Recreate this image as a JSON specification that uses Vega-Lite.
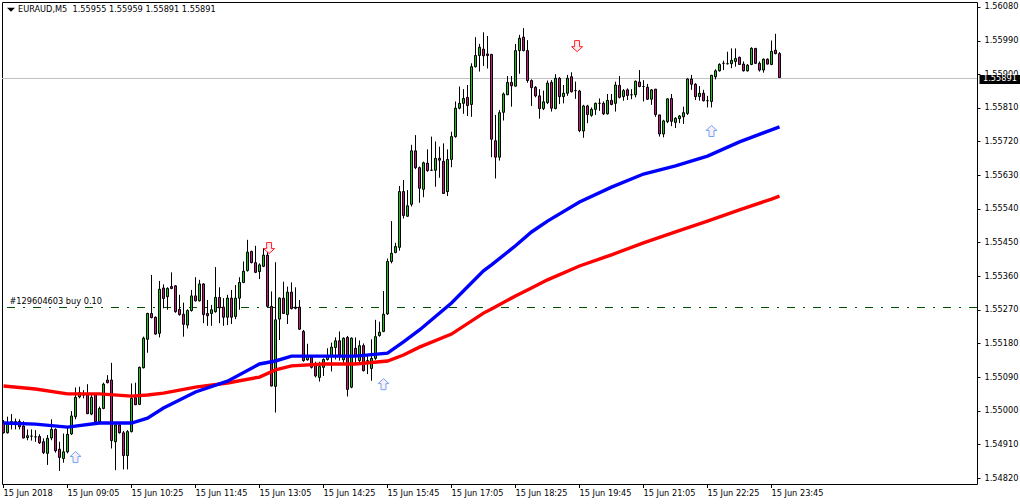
{"$schema":"https://vega.github.io/schema/vega-lite/v6.json","width":975,"height":482,"autosize":"none","padding":{"left":2,"top":2,"right":43,"bottom":20},"background":"white","config":{"view":{"stroke":"black","strokeWidth":1},"axis":{"title":null,"grid":false,"domain":false,"tickColor":"black","tickSize":3,"labelColor":"black","labelFont":"DejaVu Sans","labelFontSize":8.2,"labelOverlap":false,"labelBound":false},"text":{"font":"DejaVu Sans","fontSize":8.2,"color":"black"}},"datasets":{"candles":[
{"t":"2018-06-15T07:45Z","o":1.54968,"h":1.54975,"l":1.54939,"c":1.54941},
{"t":"2018-06-15T07:50Z","o":1.54941,"h":1.54984,"l":1.54939,"c":1.54966},
{"t":"2018-06-15T07:55Z","o":1.54963,"h":1.54991,"l":1.5495,"c":1.54971},
{"t":"2018-06-15T08:00Z","o":1.54964,"h":1.54979,"l":1.5495,"c":1.54971},
{"t":"2018-06-15T08:05Z","o":1.54971,"h":1.54977,"l":1.5495,"c":1.54957},
{"t":"2018-06-15T08:10Z","o":1.54959,"h":1.54972,"l":1.54926,"c":1.54927},
{"t":"2018-06-15T08:15Z","o":1.54928,"h":1.5495,"l":1.54921,"c":1.54933},
{"t":"2018-06-15T08:20Z","o":1.54932,"h":1.5495,"l":1.5492,"c":1.54932},
{"t":"2018-06-15T08:25Z","o":1.5493,"h":1.54948,"l":1.54917,"c":1.5493},
{"t":"2018-06-15T08:30Z","o":1.54931,"h":1.54937,"l":1.54911,"c":1.54914},
{"t":"2018-06-15T08:35Z","o":1.54917,"h":1.54926,"l":1.54884,"c":1.54888},
{"t":"2018-06-15T08:40Z","o":1.54886,"h":1.54935,"l":1.54855,"c":1.54926},
{"t":"2018-06-15T08:45Z","o":1.54927,"h":1.54977,"l":1.54921,"c":1.5495},
{"t":"2018-06-15T08:50Z","o":1.5495,"h":1.54953,"l":1.54888,"c":1.54893},
{"t":"2018-06-15T08:55Z","o":1.54897,"h":1.54917,"l":1.54839,"c":1.54875},
{"t":"2018-06-15T09:00Z","o":1.54872,"h":1.54939,"l":1.54861,"c":1.5489},
{"t":"2018-06-15T09:05Z","o":1.5489,"h":1.54956,"l":1.54886,"c":1.54937},
{"t":"2018-06-15T09:10Z","o":1.54938,"h":1.54999,"l":1.54935,"c":1.54986},
{"t":"2018-06-15T09:15Z","o":1.54984,"h":1.55062,"l":1.54977,"c":1.55036},
{"t":"2018-06-15T09:20Z","o":1.55037,"h":1.55064,"l":1.55033,"c":1.55048},
{"t":"2018-06-15T09:25Z","o":1.55042,"h":1.55055,"l":1.55033,"c":1.55042},
{"t":"2018-06-15T09:30Z","o":1.55042,"h":1.55071,"l":1.54991,"c":1.54992},
{"t":"2018-06-15T09:35Z","o":1.54991,"h":1.55045,"l":1.54988,"c":1.55036},
{"t":"2018-06-15T09:40Z","o":1.55042,"h":1.55046,"l":1.54966,"c":1.54971},
{"t":"2018-06-15T09:45Z","o":1.54971,"h":1.55011,"l":1.54966,"c":1.55006},
{"t":"2018-06-15T09:50Z","o":1.55006,"h":1.55075,"l":1.55004,"c":1.55071},
{"t":"2018-06-15T09:55Z","o":1.55082,"h":1.55095,"l":1.55073,"c":1.55075},
{"t":"2018-06-15T10:00Z","o":1.55082,"h":1.55128,"l":1.54899,"c":1.5492},
{"t":"2018-06-15T10:05Z","o":1.54917,"h":1.54966,"l":1.54841,"c":1.54962},
{"t":"2018-06-15T10:10Z","o":1.54962,"h":1.54968,"l":1.54939,"c":1.54941},
{"t":"2018-06-15T10:15Z","o":1.54941,"h":1.54946,"l":1.54843,"c":1.5488},
{"t":"2018-06-15T10:20Z","o":1.5488,"h":1.54948,"l":1.54843,"c":1.54944},
{"t":"2018-06-15T10:25Z","o":1.54944,"h":1.55073,"l":1.54942,"c":1.55033},
{"t":"2018-06-15T10:30Z","o":1.55035,"h":1.55075,"l":1.55015,"c":1.55016},
{"t":"2018-06-15T10:35Z","o":1.55017,"h":1.55118,"l":1.55015,"c":1.55116},
{"t":"2018-06-15T10:40Z","o":1.55115,"h":1.55198,"l":1.55113,"c":1.55194},
{"t":"2018-06-15T10:45Z","o":1.55191,"h":1.55262,"l":1.55155,"c":1.5526},
{"t":"2018-06-15T10:50Z","o":1.5526,"h":1.55363,"l":1.55247,"c":1.55249},
{"t":"2018-06-15T10:55Z","o":1.5525,"h":1.55252,"l":1.55203,"c":1.55205},
{"t":"2018-06-15T11:00Z","o":1.55207,"h":1.55347,"l":1.55196,"c":1.55325},
{"t":"2018-06-15T11:05Z","o":1.55328,"h":1.55338,"l":1.55274,"c":1.553},
{"t":"2018-06-15T11:10Z","o":1.55305,"h":1.5533,"l":1.5527,"c":1.55327},
{"t":"2018-06-15T11:15Z","o":1.55332,"h":1.5537,"l":1.55325,"c":1.55327},
{"t":"2018-06-15T11:20Z","o":1.55334,"h":1.55336,"l":1.55262,"c":1.55265},
{"t":"2018-06-15T11:25Z","o":1.55271,"h":1.5531,"l":1.55254,"c":1.55257},
{"t":"2018-06-15T11:30Z","o":1.55258,"h":1.55289,"l":1.55198,"c":1.55231},
{"t":"2018-06-15T11:35Z","o":1.55229,"h":1.55271,"l":1.5522,"c":1.55268},
{"t":"2018-06-15T11:40Z","o":1.55268,"h":1.55323,"l":1.55265,"c":1.55307},
{"t":"2018-06-15T11:45Z","o":1.55307,"h":1.55357,"l":1.55292,"c":1.55294},
{"t":"2018-06-15T11:50Z","o":1.55294,"h":1.5535,"l":1.55292,"c":1.55339},
{"t":"2018-06-15T11:55Z","o":1.55339,"h":1.55341,"l":1.55234,"c":1.55257},
{"t":"2018-06-15T12:00Z","o":1.5526,"h":1.55296,"l":1.55227,"c":1.55254},
{"t":"2018-06-15T12:05Z","o":1.5526,"h":1.55283,"l":1.55227,"c":1.5527},
{"t":"2018-06-15T12:10Z","o":1.55265,"h":1.55384,"l":1.55262,"c":1.55303},
{"t":"2018-06-15T12:15Z","o":1.55303,"h":1.5533,"l":1.55234,"c":1.55275},
{"t":"2018-06-15T12:20Z","o":1.55277,"h":1.55301,"l":1.55227,"c":1.5525},
{"t":"2018-06-15T12:25Z","o":1.5525,"h":1.5531,"l":1.55229,"c":1.55301},
{"t":"2018-06-15T12:30Z","o":1.55301,"h":1.55323,"l":1.55232,"c":1.5525},
{"t":"2018-06-15T12:35Z","o":1.55252,"h":1.55336,"l":1.55245,"c":1.55301},
{"t":"2018-06-15T12:40Z","o":1.55301,"h":1.55357,"l":1.5527,"c":1.55343},
{"t":"2018-06-15T12:45Z","o":1.55343,"h":1.55399,"l":1.55341,"c":1.55373},
{"t":"2018-06-15T12:50Z","o":1.55375,"h":1.55457,"l":1.55372,"c":1.55424},
{"t":"2018-06-15T12:55Z","o":1.55426,"h":1.55428,"l":1.55394,"c":1.55396},
{"t":"2018-06-15T13:00Z","o":1.55396,"h":1.55441,"l":1.55368,"c":1.5537},
{"t":"2018-06-15T13:05Z","o":1.55372,"h":1.55394,"l":1.55352,"c":1.5539},
{"t":"2018-06-15T13:10Z","o":1.55386,"h":1.55435,"l":1.55384,"c":1.55416},
{"t":"2018-06-15T13:15Z","o":1.55416,"h":1.55448,"l":1.55277,"c":1.55279},
{"t":"2018-06-15T13:20Z","o":1.55279,"h":1.55319,"l":1.55065,"c":1.55066},
{"t":"2018-06-15T13:25Z","o":1.55065,"h":1.55397,"l":1.54995,"c":1.55243},
{"t":"2018-06-15T13:30Z","o":1.55245,"h":1.55303,"l":1.55189,"c":1.55301},
{"t":"2018-06-15T13:35Z","o":1.55301,"h":1.55345,"l":1.55259,"c":1.5526},
{"t":"2018-06-15T13:40Z","o":1.55257,"h":1.55332,"l":1.55232,"c":1.55317},
{"t":"2018-06-15T13:45Z","o":1.55317,"h":1.55343,"l":1.55271,"c":1.55273},
{"t":"2018-06-15T13:50Z","o":1.55277,"h":1.5533,"l":1.55271,"c":1.55274},
{"t":"2018-06-15T13:55Z","o":1.55277,"h":1.55296,"l":1.55216,"c":1.55218},
{"t":"2018-06-15T14:00Z","o":1.55212,"h":1.55216,"l":1.55131,"c":1.55134},
{"t":"2018-06-15T14:05Z","o":1.55136,"h":1.55179,"l":1.55134,"c":1.55145},
{"t":"2018-06-15T14:10Z","o":1.55143,"h":1.55149,"l":1.55113,"c":1.55116},
{"t":"2018-06-15T14:15Z","o":1.55122,"h":1.55131,"l":1.55089,"c":1.55093},
{"t":"2018-06-15T14:20Z","o":1.55089,"h":1.55131,"l":1.55078,"c":1.55118},
{"t":"2018-06-15T14:25Z","o":1.55116,"h":1.5514,"l":1.55093,"c":1.55137},
{"t":"2018-06-15T14:30Z","o":1.55137,"h":1.55167,"l":1.55134,"c":1.55145},
{"t":"2018-06-15T14:35Z","o":1.55146,"h":1.55182,"l":1.55105,"c":1.5517},
{"t":"2018-06-15T14:40Z","o":1.55169,"h":1.55196,"l":1.55137,"c":1.55187},
{"t":"2018-06-15T14:45Z","o":1.55187,"h":1.55212,"l":1.55134,"c":1.55149},
{"t":"2018-06-15T14:50Z","o":1.55136,"h":1.55196,"l":1.55127,"c":1.55194},
{"t":"2018-06-15T14:55Z","o":1.55196,"h":1.552,"l":1.55038,"c":1.55057},
{"t":"2018-06-15T15:00Z","o":1.55063,"h":1.55196,"l":1.5506,"c":1.55194},
{"t":"2018-06-15T15:05Z","o":1.55167,"h":1.55196,"l":1.55127,"c":1.55146},
{"t":"2018-06-15T15:10Z","o":1.55134,"h":1.55188,"l":1.55127,"c":1.55174},
{"t":"2018-06-15T15:15Z","o":1.55174,"h":1.5518,"l":1.55105,"c":1.55107},
{"t":"2018-06-15T15:20Z","o":1.55134,"h":1.55149,"l":1.55098,"c":1.55134},
{"t":"2018-06-15T15:25Z","o":1.55113,"h":1.55191,"l":1.5508,"c":1.5514},
{"t":"2018-06-15T15:30Z","o":1.5514,"h":1.55243,"l":1.55136,"c":1.55198},
{"t":"2018-06-15T15:35Z","o":1.55201,"h":1.55238,"l":1.55198,"c":1.5521},
{"t":"2018-06-15T15:40Z","o":1.55212,"h":1.5532,"l":1.5521,"c":1.55258},
{"t":"2018-06-15T15:45Z","o":1.55259,"h":1.55407,"l":1.55256,"c":1.55399},
{"t":"2018-06-15T15:50Z","o":1.55399,"h":1.55507,"l":1.55394,"c":1.55421},
{"t":"2018-06-15T15:55Z","o":1.55423,"h":1.55449,"l":1.55421,"c":1.55439},
{"t":"2018-06-15T16:00Z","o":1.55437,"h":1.55601,"l":1.55428,"c":1.55586},
{"t":"2018-06-15T16:05Z","o":1.55586,"h":1.55617,"l":1.55514,"c":1.55522},
{"t":"2018-06-15T16:10Z","o":1.5552,"h":1.5559,"l":1.55519,"c":1.55548},
{"t":"2018-06-15T16:15Z","o":1.55552,"h":1.55711,"l":1.55546,"c":1.55695},
{"t":"2018-06-15T16:20Z","o":1.55695,"h":1.55737,"l":1.55646,"c":1.5565},
{"t":"2018-06-15T16:25Z","o":1.5565,"h":1.55653,"l":1.55556,"c":1.55595},
{"t":"2018-06-15T16:30Z","o":1.55592,"h":1.55666,"l":1.55571,"c":1.55663},
{"t":"2018-06-15T16:35Z","o":1.55662,"h":1.55699,"l":1.55639,"c":1.55642},
{"t":"2018-06-15T16:40Z","o":1.55643,"h":1.55733,"l":1.55642,"c":1.55643},
{"t":"2018-06-15T16:45Z","o":1.55643,"h":1.5572,"l":1.55599,"c":1.55675},
{"t":"2018-06-15T16:50Z","o":1.55675,"h":1.55706,"l":1.55623,"c":1.5567},
{"t":"2018-06-15T16:55Z","o":1.55667,"h":1.55715,"l":1.55581,"c":1.55581},
{"t":"2018-06-15T17:00Z","o":1.55586,"h":1.55699,"l":1.55574,"c":1.55672},
{"t":"2018-06-15T17:05Z","o":1.55672,"h":1.55746,"l":1.55651,"c":1.55733},
{"t":"2018-06-15T17:10Z","o":1.55733,"h":1.55827,"l":1.5573,"c":1.55809},
{"t":"2018-06-15T17:15Z","o":1.55809,"h":1.55867,"l":1.55806,"c":1.55822},
{"t":"2018-06-15T17:20Z","o":1.55822,"h":1.5586,"l":1.55794,"c":1.55835},
{"t":"2018-06-15T17:25Z","o":1.55838,"h":1.55871,"l":1.55788,"c":1.55816},
{"t":"2018-06-15T17:30Z","o":1.55819,"h":1.55929,"l":1.55786,"c":1.5592},
{"t":"2018-06-15T17:35Z","o":1.5592,"h":1.55999,"l":1.55918,"c":1.5595},
{"t":"2018-06-15T17:40Z","o":1.5595,"h":1.55981,"l":1.55907,"c":1.55972},
{"t":"2018-06-15T17:45Z","o":1.55967,"h":1.56012,"l":1.55922,"c":1.55949},
{"t":"2018-06-15T17:50Z","o":1.55954,"h":1.56002,"l":1.55915,"c":1.5595},
{"t":"2018-06-15T17:55Z","o":1.55953,"h":1.55954,"l":1.55678,"c":1.55726},
{"t":"2018-06-15T18:00Z","o":1.55722,"h":1.55791,"l":1.55621,"c":1.55678},
{"t":"2018-06-15T18:05Z","o":1.55678,"h":1.55804,"l":1.55669,"c":1.55797},
{"t":"2018-06-15T18:10Z","o":1.55798,"h":1.55851,"l":1.55776,"c":1.55847},
{"t":"2018-06-15T18:15Z","o":1.55845,"h":1.55895,"l":1.55844,"c":1.55878},
{"t":"2018-06-15T18:20Z","o":1.55878,"h":1.55895,"l":1.55813,"c":1.55869},
{"t":"2018-06-15T18:25Z","o":1.55868,"h":1.55981,"l":1.55867,"c":1.55963},
{"t":"2018-06-15T18:30Z","o":1.55963,"h":1.56005,"l":1.55901,"c":1.55996},
{"t":"2018-06-15T18:35Z","o":1.55999,"h":1.56023,"l":1.55961,"c":1.55963},
{"t":"2018-06-15T18:40Z","o":1.55963,"h":1.55991,"l":1.55877,"c":1.55883},
{"t":"2018-06-15T18:45Z","o":1.55883,"h":1.55886,"l":1.55815,"c":1.55864},
{"t":"2018-06-15T18:50Z","o":1.55865,"h":1.55868,"l":1.55838,"c":1.55842},
{"t":"2018-06-15T18:55Z","o":1.55842,"h":1.5586,"l":1.55781,"c":1.55808},
{"t":"2018-06-15T19:00Z","o":1.55808,"h":1.55856,"l":1.55804,"c":1.55826},
{"t":"2018-06-15T19:05Z","o":1.55824,"h":1.55883,"l":1.5582,"c":1.55876},
{"t":"2018-06-15T19:10Z","o":1.55878,"h":1.55884,"l":1.558,"c":1.55809},
{"t":"2018-06-15T19:15Z","o":1.55808,"h":1.559,"l":1.55806,"c":1.55889},
{"t":"2018-06-15T19:20Z","o":1.55889,"h":1.55892,"l":1.5582,"c":1.5584},
{"t":"2018-06-15T19:25Z","o":1.5584,"h":1.55871,"l":1.55822,"c":1.55849},
{"t":"2018-06-15T19:30Z","o":1.55849,"h":1.55898,"l":1.55842,"c":1.55889},
{"t":"2018-06-15T19:35Z","o":1.55893,"h":1.55905,"l":1.55851,"c":1.55853},
{"t":"2018-06-15T19:40Z","o":1.55856,"h":1.5588,"l":1.55834,"c":1.55856},
{"t":"2018-06-15T19:45Z","o":1.55855,"h":1.55858,"l":1.55745,"c":1.55749},
{"t":"2018-06-15T19:50Z","o":1.55748,"h":1.55818,"l":1.5573,"c":1.55815},
{"t":"2018-06-15T19:55Z","o":1.55815,"h":1.55818,"l":1.55769,"c":1.55792},
{"t":"2018-06-15T20:00Z","o":1.5579,"h":1.55811,"l":1.55786,"c":1.55806},
{"t":"2018-06-15T20:05Z","o":1.55806,"h":1.55824,"l":1.55791,"c":1.55822},
{"t":"2018-06-15T20:10Z","o":1.55822,"h":1.55835,"l":1.55802,"c":1.55822},
{"t":"2018-06-15T20:15Z","o":1.55822,"h":1.55827,"l":1.55791,"c":1.55794},
{"t":"2018-06-15T20:20Z","o":1.55794,"h":1.55847,"l":1.55792,"c":1.5583},
{"t":"2018-06-15T20:25Z","o":1.5583,"h":1.55847,"l":1.55817,"c":1.55819},
{"t":"2018-06-15T20:30Z","o":1.55822,"h":1.5588,"l":1.558,"c":1.55871},
{"t":"2018-06-15T20:35Z","o":1.5587,"h":1.55895,"l":1.55835,"c":1.55838},
{"t":"2018-06-15T20:40Z","o":1.5584,"h":1.5586,"l":1.55829,"c":1.55856},
{"t":"2018-06-15T20:45Z","o":1.55858,"h":1.55862,"l":1.55831,"c":1.55843},
{"t":"2018-06-15T20:50Z","o":1.55845,"h":1.5586,"l":1.55833,"c":1.55845},
{"t":"2018-06-15T20:55Z","o":1.55845,"h":1.55883,"l":1.55838,"c":1.55881},
{"t":"2018-06-15T21:00Z","o":1.55879,"h":1.55911,"l":1.55865,"c":1.55867},
{"t":"2018-06-15T21:05Z","o":1.55867,"h":1.55884,"l":1.55827,"c":1.55867},
{"t":"2018-06-15T21:10Z","o":1.55865,"h":1.55874,"l":1.55831,"c":1.55833},
{"t":"2018-06-15T21:15Z","o":1.55833,"h":1.5586,"l":1.55818,"c":1.55858},
{"t":"2018-06-15T21:20Z","o":1.5586,"h":1.5586,"l":1.55786,"c":1.55792},
{"t":"2018-06-15T21:25Z","o":1.55791,"h":1.55791,"l":1.55733,"c":1.5574},
{"t":"2018-06-15T21:30Z","o":1.5574,"h":1.55778,"l":1.55731,"c":1.55775},
{"t":"2018-06-15T21:35Z","o":1.55773,"h":1.55835,"l":1.55769,"c":1.55834},
{"t":"2018-06-15T21:40Z","o":1.55835,"h":1.55847,"l":1.55761,"c":1.55774},
{"t":"2018-06-15T21:45Z","o":1.55771,"h":1.55785,"l":1.55756,"c":1.55782},
{"t":"2018-06-15T21:50Z","o":1.55781,"h":1.55791,"l":1.55769,"c":1.55788},
{"t":"2018-06-15T21:55Z","o":1.55786,"h":1.55813,"l":1.55767,"c":1.55797},
{"t":"2018-06-15T22:00Z","o":1.55795,"h":1.55889,"l":1.55791,"c":1.55887},
{"t":"2018-06-15T22:05Z","o":1.55887,"h":1.55898,"l":1.55858,"c":1.55873},
{"t":"2018-06-15T22:10Z","o":1.55873,"h":1.55876,"l":1.55831,"c":1.5584},
{"t":"2018-06-15T22:15Z","o":1.5584,"h":1.55868,"l":1.55829,"c":1.55849},
{"t":"2018-06-15T22:20Z","o":1.55849,"h":1.55858,"l":1.55827,"c":1.55829},
{"t":"2018-06-15T22:25Z","o":1.55829,"h":1.55842,"l":1.55811,"c":1.55829},
{"t":"2018-06-15T22:30Z","o":1.55827,"h":1.55898,"l":1.55811,"c":1.55897},
{"t":"2018-06-15T22:35Z","o":1.55893,"h":1.55913,"l":1.55886,"c":1.55909},
{"t":"2018-06-15T22:40Z","o":1.55909,"h":1.55929,"l":1.55907,"c":1.55926},
{"t":"2018-06-15T22:45Z","o":1.55929,"h":1.55936,"l":1.55911,"c":1.55929},
{"t":"2018-06-15T22:50Z","o":1.55928,"h":1.5596,"l":1.55926,"c":1.55928},
{"t":"2018-06-15T22:55Z","o":1.55928,"h":1.55969,"l":1.55916,"c":1.55937},
{"t":"2018-06-15T23:00Z","o":1.55934,"h":1.55969,"l":1.5592,"c":1.55942},
{"t":"2018-06-15T23:05Z","o":1.55945,"h":1.55947,"l":1.55925,"c":1.55926},
{"t":"2018-06-15T23:10Z","o":1.55927,"h":1.55934,"l":1.55907,"c":1.55909},
{"t":"2018-06-15T23:15Z","o":1.55909,"h":1.55927,"l":1.55907,"c":1.55924},
{"t":"2018-06-15T23:20Z","o":1.55926,"h":1.55972,"l":1.55924,"c":1.55969},
{"t":"2018-06-15T23:25Z","o":1.55969,"h":1.5597,"l":1.55927,"c":1.55929},
{"t":"2018-06-15T23:30Z","o":1.55929,"h":1.55934,"l":1.55907,"c":1.55911},
{"t":"2018-06-15T23:35Z","o":1.55911,"h":1.55942,"l":1.55904,"c":1.5594},
{"t":"2018-06-15T23:40Z","o":1.5594,"h":1.55942,"l":1.55926,"c":1.55927},
{"t":"2018-06-15T23:45Z","o":1.55926,"h":1.5599,"l":1.55924,"c":1.55961},
{"t":"2018-06-15T23:50Z","o":1.55964,"h":1.56008,"l":1.55953,"c":1.55955},
{"t":"2018-06-15T23:55Z","o":1.55955,"h":1.55959,"l":1.55891,"c":1.55891}
],"ma":[
{"t":"2018-06-15T07:45Z","blue":1.54967,"red":1.55066},
{"t":"2018-06-15T08:25Z","blue":1.54964,"red":1.55058},
{"t":"2018-06-15T09:05Z","blue":1.54956,"red":1.55045},
{"t":"2018-06-15T09:45Z","blue":1.54967,"red":1.55045},
{"t":"2018-06-15T10:25Z","blue":1.54967,"red":1.55039},
{"t":"2018-06-15T10:45Z","blue":1.5498,"red":1.55042},
{"t":"2018-06-15T11:05Z","blue":1.55007,"red":1.55047},
{"t":"2018-06-15T11:45Z","blue":1.5505,"red":1.55063},
{"t":"2018-06-15T12:25Z","blue":1.55079,"red":1.55074},
{"t":"2018-06-15T13:05Z","blue":1.55125,"red":1.5509},
{"t":"2018-06-15T13:25Z","blue":1.55133,"red":1.55109},
{"t":"2018-06-15T13:45Z","blue":1.55146,"red":1.5512},
{"t":"2018-06-15T14:25Z","blue":1.55146,"red":1.55125},
{"t":"2018-06-15T15:05Z","blue":1.55146,"red":1.55125},
{"t":"2018-06-15T15:45Z","blue":1.55154,"red":1.55133},
{"t":"2018-06-15T16:05Z","blue":1.55184,"red":1.55149},
{"t":"2018-06-15T16:25Z","blue":1.55216,"red":1.5517},
{"t":"2018-06-15T17:05Z","blue":1.55288,"red":1.55205},
{"t":"2018-06-15T17:45Z","blue":1.55374,"red":1.55261},
{"t":"2018-06-15T17:55Z","blue":1.5539,"red":1.55272},
{"t":"2018-06-15T18:25Z","blue":1.55441,"red":1.55307},
{"t":"2018-06-15T18:45Z","blue":1.55478,"red":1.55328},
{"t":"2018-06-15T19:05Z","blue":1.55507,"red":1.5535},
{"t":"2018-06-15T19:45Z","blue":1.55558,"red":1.55387},
{"t":"2018-06-15T20:25Z","blue":1.55598,"red":1.55417},
{"t":"2018-06-15T21:05Z","blue":1.55633,"red":1.55449},
{"t":"2018-06-15T21:45Z","blue":1.55655,"red":1.55478},
{"t":"2018-06-15T22:25Z","blue":1.55681,"red":1.55507},
{"t":"2018-06-15T23:05Z","blue":1.55719,"red":1.55537},
{"t":"2018-06-15T23:45Z","blue":1.55751,"red":1.55566},
{"t":"2018-06-15T23:55Z","blue":1.55759,"red":1.55574}
]},"layer":[
{"data":{"values":[{"p":1.558885}]},"mark":{"type":"rule","color":"#c0c0c0","strokeWidth":1},"encoding":{"y":{"field":"p","type":"quantitative"}}},
{"data":{"values":[{"p":1.55276}]},"mark":{"type":"rule","color":"#005000","strokeWidth":1,"strokeDash":[8,8,2,8]},"encoding":{"y":{"field":"p","type":"quantitative"}}},
{"data":{"name":"candles"},"mark":{"type":"rule","color":"black","strokeWidth":1},"encoding":{"x":{"field":"t","type":"temporal","scale":{"type":"utc","nice":false,"padding":0,"domain":[1529048587500,1529121712500]},"axis":{"values":[1529048700000,1529053500000,1529058300000,1529063100000,1529067900000,1529072700000,1529077500000,1529082300000,1529087100000,1529091900000,1529096700000,1529101500000,1529106300000],"orient":"bottom","tickSize":4,"tickRound":false,"translate":0,"labelAlign":"left","labelFlush":false,"labelOverlap":false,"labelPadding":2,"labelExpr":"datum.index==0?'15 Jun 2018':utcFormat(datum.value,'%d %b %H:%M')"}},"y":{"field":"l","type":"quantitative","scale":{"domain":[1.54804,1.56093],"zero":false,"nice":false,"padding":0},"axis":{"orient":"right","values":[1.5608,1.5599,1.559,1.5581,1.5572,1.5563,1.5554,1.5545,1.5536,1.5527,1.5518,1.5509,1.55,1.5491,1.5482],"tickCount":30,"format":".5f","labelOverlap":false,"labelSeparation":0,"labelPadding":4}},"y2":{"field":"h"}}},
{"data":{"name":"candles"},"mark":{"type":"bar","size":2,"stroke":"black","strokeWidth":1,"orient":"vertical"},"encoding":{"x":{"field":"t","type":"temporal"},"y":{"field":"o","type":"quantitative"},"y2":{"field":"c"},"fill":{"condition":{"test":"datum.c>=datum.o","value":"#10c810"},"value":"#c71585"}}},
{"data":{"name":"ma"},"mark":{"type":"line","color":"#ff0000","strokeWidth":3.4},"encoding":{"x":{"field":"t","type":"temporal"},"y":{"field":"red","type":"quantitative"}}},
{"data":{"name":"ma"},"mark":{"type":"line","color":"#0000ff","strokeWidth":3.4},"encoding":{"x":{"field":"t","type":"temporal"},"y":{"field":"blue","type":"quantitative"}}},
{"data":{"values":[{"t":"2018-06-15T09:15Z","p":1.54876},{"t":"2018-06-15T15:40Z","p":1.55071},{"t":"2018-06-15T22:30Z","p":1.55748}]},"mark":{"type":"point","filled":false,"fill":"#fdeef6","fillOpacity":1,"stroke":"#6ea6f5","strokeWidth":1,"size":121,"opacity":1,"shape":"M0,-1 L1,-0.1 L0.45,-0.1 L0.45,1 L-0.45,1 L-0.45,-0.1 L-1,-0.1 Z"},"encoding":{"x":{"field":"t","type":"temporal"},"y":{"field":"p","type":"quantitative"}}},
{"data":{"values":[{"t":"2018-06-15T13:17Z","p":1.55435},{"t":"2018-06-15T19:42Z","p":1.55975}]},"mark":{"type":"point","filled":false,"fill":"#fdeef6","fillOpacity":1,"stroke":"#ff2020","strokeWidth":1,"size":121,"opacity":1,"shape":"M0,1 L1,0.1 L0.45,0.1 L0.45,-1 L-0.45,-1 L-0.45,0.1 L-1,0.1 Z"},"encoding":{"x":{"field":"t","type":"temporal"},"y":{"field":"p","type":"quantitative"}}},
{"data":{"values":[{"t":"2018-06-15T07:54:22Z","p":1.56072}]},"mark":{"type":"point","filled":true,"color":"black","opacity":1,"size":64,"shape":"M-1,-0.5 L1,-0.5 L0,0.5 Z"},"encoding":{"x":{"field":"t","type":"temporal"},"y":{"field":"p","type":"quantitative"}}},
{"data":{"values":[{"t":"2018-06-15T08:03:06Z","p":1.56072,"s":"EURAUD,M5\u00a0 1.55955 1.55959 1.55891 1.55891"},{"t":"2018-06-15T07:52:30Z","p":1.55292,"s":"#129604603 buy 0.10"}]},"mark":{"type":"text","align":"left","baseline":"middle"},"encoding":{"x":{"field":"t","type":"temporal"},"y":{"field":"p","type":"quantitative"},"text":{"field":"s"}}},
{"data":{"values":[{"t0":"2018-06-16T04:05:00Z","t1":"2018-06-16T04:56:00Z","hi":1.55898,"lo":1.55874}]},"mark":{"type":"rect","color":"black"},"encoding":{"x":{"field":"t0","type":"temporal"},"x2":{"field":"t1"},"y":{"field":"hi","type":"quantitative"},"y2":{"field":"lo"}}},
{"data":{"values":[{"t":"2018-06-16T04:09:24Z","p":1.55887,"s":"1.55891"}]},"mark":{"type":"text","align":"left","baseline":"middle","color":"white"},"encoding":{"x":{"field":"t","type":"temporal"},"y":{"field":"p","type":"quantitative"},"text":{"field":"s"}}}
]}
